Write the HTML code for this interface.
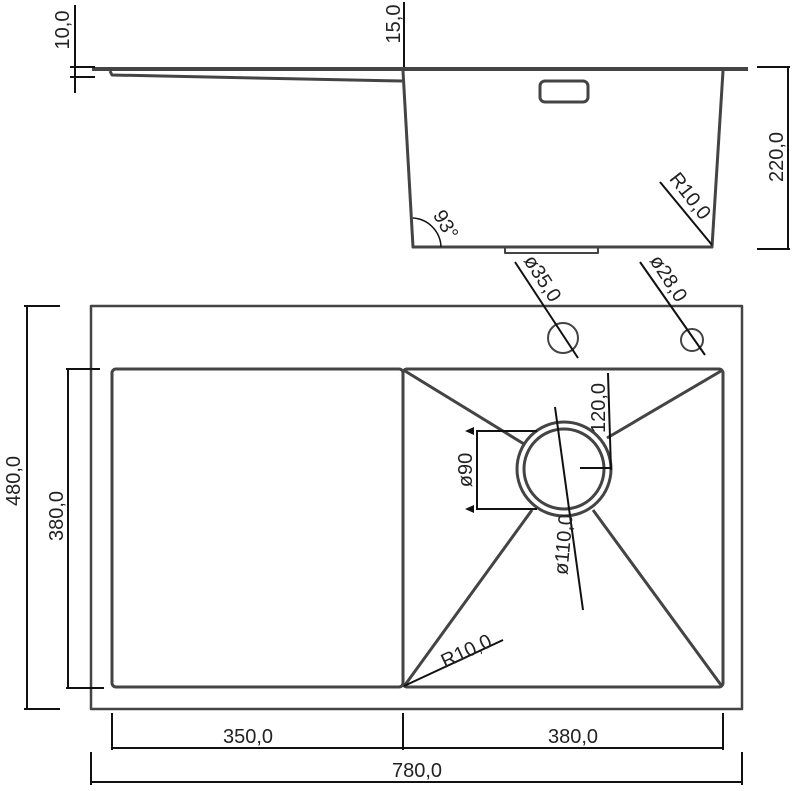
<!DOCTYPE html>
<html><head><style>body{margin:0;background:#fff}svg{display:block}</style></head><body>
<svg width="800" height="791" viewBox="0 0 800 791" xmlns="http://www.w3.org/2000/svg" font-family="Liberation Sans, DejaVu Sans, sans-serif" font-size="20" fill="#222">
<g stroke="#444" stroke-width="3" fill="none" stroke-linejoin="round">
<line x1="92" y1="69" x2="748" y2="69" stroke-width="4"/>
<path d="M110 71 L112 75 L402 81"/>
<path d="M403 71 L413 247 L712 247 L723 71"/>
<rect x="540" y="81" width="48" height="21" rx="5"/>
<path d="M505 247 L505 253 L598 253 L598 247" stroke-width="2"/>
<rect x="91" y="306" width="651" height="403" stroke-width="2.5"/>
<rect x="112" y="369" width="291" height="318" rx="4"/>
<rect x="403" y="369" width="320" height="318" rx="4"/>
<circle cx="564" cy="469" r="47"/>
<circle cx="564" cy="469" r="40"/>
<circle cx="563" cy="338" r="15" stroke-width="2"/>
<circle cx="692" cy="340" r="11" stroke-width="2"/>
<line x1="405" y1="371" x2="524" y2="444"/>
<line x1="721" y1="371" x2="607" y2="438"/>
<line x1="405" y1="685" x2="532" y2="510"/>
<line x1="721" y1="685" x2="593" y2="510"/>
</g>
<g stroke="#111" stroke-width="2" fill="none">
<line x1="75" y1="5" x2="75" y2="93"/>
<line x1="70" y1="67" x2="95" y2="67"/><line x1="70" y1="77" x2="95" y2="77"/>
<line x1="404" y1="2" x2="404" y2="67"/>
<line x1="788" y1="67" x2="788" y2="249"/>
<line x1="757" y1="67" x2="790" y2="67"/><line x1="757" y1="249" x2="790" y2="249"/>
<path d="M413 218 A30 30 0 0 1 441 247" stroke-width="1.5"/>
<line x1="660" y1="182" x2="712" y2="245"/>
<line x1="515" y1="262" x2="578" y2="358"/>
<line x1="640" y1="262" x2="705" y2="355"/>
<line x1="27" y1="306" x2="27" y2="709"/>
<line x1="24" y1="306" x2="60" y2="306"/><line x1="24" y1="709" x2="60" y2="709"/>
<line x1="68" y1="369" x2="68" y2="688"/>
<line x1="66" y1="369" x2="100" y2="369"/><line x1="66" y1="688" x2="104" y2="688"/>
<line x1="112" y1="748" x2="723" y2="748"/>
<line x1="112" y1="713" x2="112" y2="750"/><line x1="403" y1="713" x2="403" y2="750"/><line x1="723" y1="713" x2="723" y2="750"/>
<line x1="91" y1="782" x2="742" y2="782"/>
<line x1="91" y1="752" x2="91" y2="785"/><line x1="742" y1="752" x2="742" y2="785"/>
<path d="M537 431 L477 431 L477 509 L537 509"/>
<line x1="555" y1="407" x2="583" y2="610"/>
<line x1="608" y1="373" x2="611" y2="470"/>
<line x1="580" y1="468" x2="611" y2="468"/>
<line x1="404" y1="686" x2="503" y2="640"/>
</g>
<g fill="#111"><path d="M465 431 L474 427 L474 435Z"/><path d="M465 509 L474 505 L474 513Z"/></g>
<g text-anchor="middle">
<text transform="translate(69,30) rotate(-90)">10,0</text>
<text transform="translate(400,24) rotate(-90)">15,0</text>
<text transform="translate(783,157) rotate(-90)">220,0</text>
<text transform="translate(20,481) rotate(-90)">480,0</text>
<text transform="translate(63,516) rotate(-90)">380,0</text>
<text x="248" y="743">350,0</text>
<text x="573" y="743">380,0</text>
<text x="417" y="777">780,0</text>
<text transform="translate(472,470) rotate(-90)">ø90</text>
<text transform="translate(605,408) rotate(-90)">120,0</text>
<text transform="translate(570,545) rotate(-85)">ø110,0</text>
<text transform="translate(469,657) rotate(-25)">R10,0</text>
<text transform="translate(685,200) rotate(52)">R10,0</text>
<text transform="translate(440,228) rotate(60)" font-size="20">93°</text>
<text transform="translate(537,282) rotate(57)">ø35,0</text>
<text transform="translate(663,282) rotate(57)">ø28,0</text>
</g>
</svg>
</body></html>
